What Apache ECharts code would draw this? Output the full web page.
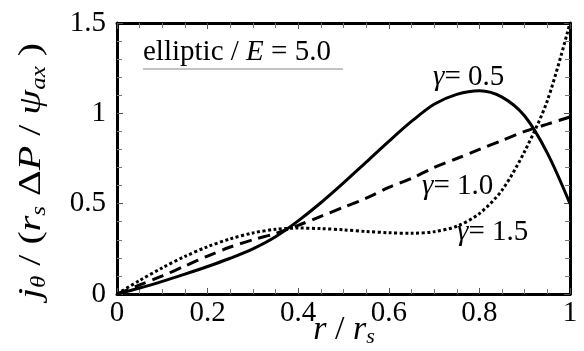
<!DOCTYPE html>
<html>
<head>
<meta charset="utf-8">
<script src="https://cdn.jsdelivr.net/npm/echarts@6/dist/echarts.min.js"></script>
<style>
html,body{margin:0;padding:0;background:#fff;}
#chart{width:584px;height:351px;}
</style>
</head>
<body>
<div id="chart"></div>
<script>
// Data
var rValues = [0, 0.05, 0.1, 0.15, 0.2, 0.25, 0.3, 0.35, 0.4, 0.45, 0.5, 0.55, 0.6, 0.65, 0.7, 0.75, 0.8, 0.85, 0.9, 0.95, 1.0];
var gamma05 = [0, 0.033, 0.07, 0.11, 0.152, 0.198, 0.25, 0.317, 0.405, 0.505, 0.615, 0.73, 0.845, 0.955, 1.05, 1.105, 1.125, 1.09, 0.985, 0.78, 0.5];
var gamma10 = [0, 0.05, 0.1, 0.155, 0.21, 0.26, 0.3, 0.335, 0.38, 0.43, 0.48, 0.53, 0.59, 0.64, 0.70, 0.75, 0.80, 0.85, 0.90, 0.94, 0.98];
var gamma15 = [0, 0.075, 0.145, 0.208, 0.262, 0.305, 0.338, 0.358, 0.365, 0.362, 0.355, 0.346, 0.339, 0.336, 0.345, 0.375, 0.445, 0.575, 0.79, 1.07, 1.5];
var xTickLabels = ['0', '0.2', '0.4', '0.6', '0.8', '1'];
var yTickLabels = ['0', '0.5', '1', '1.5'];
var seriesNames = ['γ = 0.5', 'γ = 1.0', 'γ = 1.5'];

function pairs(ys) { return rValues.map(function (r, i) { return [r, ys[i]]; }); }

var FONT = '"Liberation Serif", "DejaVu Serif", serif';
var chart = echarts.init(document.getElementById('chart'), null, {renderer: 'canvas'});

var axisCommon = {
  type: 'value',
  axisLine: {show: true, onZero: false, lineStyle: {color: '#000', width: 3}},
  axisTick: {show: true, inside: true, length: 6, lineStyle: {color: '#555', width: 1}},
  minorTick: {show: true, length: 5, lineStyle: {color: '#777', width: 1}},
  splitLine: {show: false},
  minorSplitLine: {show: false}
};

var option = {
  backgroundColor: '#fff',
  animation: false,
  grid: {left: 117, right: 14, top: 23, bottom: 57, containLabel: false},
  xAxis: [
    Object.assign({}, axisCommon, {
      min: 0, max: 1, interval: 0.2, position: 'bottom',
      minorTick: Object.assign({}, axisCommon.minorTick, {splitNumber: 4}),
      axisLabel: {color: '#000', fontFamily: FONT, fontSize: 29, margin: 5,
        formatter: function (v) { return xTickLabels[Math.round(v / 0.2)]; }}
    }),
    Object.assign({}, axisCommon, {
      min: 0, max: 1, interval: 0.2, position: 'top',
      minorTick: Object.assign({}, axisCommon.minorTick, {splitNumber: 4}),
      axisLabel: {show: false}
    })
  ],
  yAxis: [
    Object.assign({}, axisCommon, {
      min: 0, max: 1.5, interval: 0.5, position: 'left',
      minorTick: Object.assign({}, axisCommon.minorTick, {splitNumber: 5}),
      axisLabel: {color: '#000', fontFamily: FONT, fontSize: 29, margin: 11, padding: [0, 0, 8, 0],
        formatter: function (v) { return yTickLabels[Math.round(v / 0.5)]; }}
    }),
    Object.assign({}, axisCommon, {
      min: 0, max: 1.5, interval: 0.5, position: 'right',
      minorTick: Object.assign({}, axisCommon.minorTick, {splitNumber: 5}),
      axisLabel: {show: false}
    })
  ],
  series: [
    {name: seriesNames[0], type: 'line', data: pairs(gamma05), showSymbol: false, smooth: 0.3,
      lineStyle: {color: '#000', width: 3, type: 'solid'}},
    {name: seriesNames[1], type: 'line', data: pairs(gamma10), showSymbol: false, smooth: 0.3,
      lineStyle: {color: '#000', width: 3, type: [12, 7]}},
    {name: seriesNames[2], type: 'line', data: pairs(gamma15), showSymbol: false, smooth: 0.3,
      lineStyle: {color: '#000', width: 3, type: [3, 2.5]}}
  ],
  graphic: [
    {type: 'text', x: 32, y: 171, rotation: Math.PI / 2, scaleX: 1.25,
      style: {text: '{i|j}{s|θ} / ({i|r}{s|s} Δ{i|P} / {i|ψ}{s|ax} )', fill: '#000',
        fontFamily: FONT, fontSize: 32, lineHeight: 36, align: 'center', verticalAlign: 'middle',
        rich: {
          i: {fontStyle: 'italic', fontFamily: FONT, fontSize: 32, lineHeight: 36},
          s: {fontStyle: 'italic', fontFamily: FONT, fontSize: 20, lineHeight: 20, verticalAlign: 'bottom'}
        }}},
    {type: 'text', x: 344, y: 330,
      style: {text: '{i|r} / {i|r}{s|s}', fill: '#000', fontFamily: FONT, fontSize: 34, lineHeight: 36,
        align: 'center', verticalAlign: 'middle',
        rich: {
          i: {fontStyle: 'italic', fontFamily: FONT, fontSize: 34, lineHeight: 36},
          s: {fontStyle: 'italic', fontFamily: FONT, fontSize: 22, lineHeight: 20, verticalAlign: 'bottom'}
        }}},
    {type: 'text', x: 143, y: 52,
      style: {text: 'elliptic / {i|E} = 5.0', fill: '#000', fontFamily: FONT, fontSize: 29,
        align: 'left', verticalAlign: 'middle',
        rich: {i: {fontStyle: 'italic', fontFamily: FONT, fontSize: 29}}}},
    {type: 'line', shape: {x1: 143, y1: 69, x2: 343, y2: 69}, style: {stroke: '#888', lineWidth: 1}},
    {type: 'text', x: 433, y: 77,
      style: {text: '{g|γ}= 0.5', fill: '#000', fontFamily: FONT, fontSize: 29, align: 'left', verticalAlign: 'middle',
        rich: {g: {fontStyle: 'italic', fontFamily: FONT, fontSize: 29}}}},
    {type: 'text', x: 422, y: 186,
      style: {text: '{g|γ}= 1.0', fill: '#000', fontFamily: FONT, fontSize: 29, align: 'left', verticalAlign: 'middle',
        rich: {g: {fontStyle: 'italic', fontFamily: FONT, fontSize: 29}}}},
    {type: 'text', x: 457, y: 232,
      style: {text: '{g|γ}= 1.5', fill: '#000', fontFamily: FONT, fontSize: 29, align: 'left', verticalAlign: 'middle',
        rich: {g: {fontStyle: 'italic', fontFamily: FONT, fontSize: 29}}}}
  ]
};
chart.setOption(option);
</script>
</body>
</html>
